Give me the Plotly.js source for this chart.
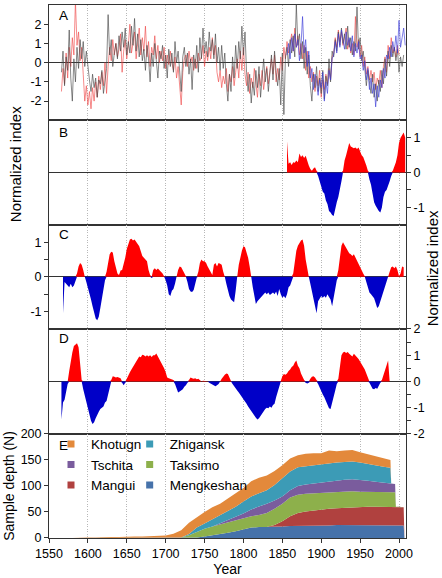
<!DOCTYPE html>
<html><head><meta charset="utf-8">
<script src="https://cdn.plot.ly/plotly-3.0.1.min.js"></script>
<style>html,body{margin:0;padding:0;background:#fff}</style>
</head><body><div id="chart" style="width:442px;height:578px"></div>
<script>
// ---------- Panel A: normalized indices (2-year steps) ----------
const aBlackStart = 1566, aRedStart = 1566, aBlueStart = 1856, aStep = 2;
const aBlack = [-0.5,0.6,-1.2,0.3,-0.4, 1.7,-0.8,-2.0,0.2,-1.0, 0.8,-0.3,1.2,0.2,1.1, -0.2,0.6,-0.3,-0.9,-1.5, -0.6,-1.3,-0.8,-1.8,-0.9, -1.1,-0.4,-1.6,-0.8,-0.3, 2.5,0.4,1.2,-0.2,0.5, 1.0,0.2,1.4,0.6,1.6, 0.8,1.8,0.4,1.1,0.5, 1.9,0.9,2.3,0.6,1.5, 0.3,1.2,0.1,0.7,-0.4, 0.9,0.2,-1.0,0.5,-0.2, 1.0,0.1,-0.8,0.6,0.2, 0.9,-0.3,0.4,-0.8,0.7, -0.2,0.5,-0.5,1.1,0.0, 0.6,-0.3,-1.5,0.3,0.8, -0.2,0.5,-0.6,0.2,-1.4, 0.4,-0.3,0.9,-0.5,1.3, 0.2,1.8,0.5,1.1,0.3, 1.6,0.6,1.2,0.2,1.5, 0.0,0.8,-0.4,0.9,-0.3, 0.5,-1.1,-2.0,-0.6,-1.5, 0.3,-0.8,0.9,-0.3,1.1, 0.2,1.9,0.4,1.6,-0.5, -1.5,-0.6,-2.1,-1.0,-1.7, -0.4,-1.3,-0.2,-1.8,-0.7, 0.2,-1.0,-0.3,-1.5,-0.6, 0.4,-0.9,0.6,-0.5,-1.2, -0.3,-2.2,0.5,-2.7,0.3, 0.8,-0.2,1.2,0.5,1.4, 0.3,3.0,0.9,1.5,0.2, 1.1,-0.3,0.8,-0.6,0.4, -1.2,-2.0,-0.6,-1.3,-0.2, -1.5,-0.8,-1.6,-0.4,-1.9, -0.7,-1.2,0.2,-1.0,0.6, 0.3,1.2,0.6,1.6,0.9, 1.8,1.0,1.5,0.7,1.9, 0.8,1.3,0.4,1.1,0.6, 2.9,0.7,1.3,0.1,0.6, -0.5,-1.2,-0.4,-1.0,-1.6, -0.6,-1.8,-1.1,-2.0,-0.9, -1.5,-0.4,-1.1,0.2,-0.7, 0.6,-0.2,0.9,0.3,0.8, 0.1,0.7,-0.5,0.3,-0.2, 0.4];
const aRed = [-1.5,-0.3,-1.1,0.5,-0.8, 0.8,-0.2,1.3,0.4,3.2, 0.9,1.6,0.1,0.8,-0.6, -2.0,-1.2,-2.2,-1.5,-2.4, -1.3,-2.0,-1.0,-1.8,-0.7, -1.4,-0.5,-1.2,0.0,-1.6, -0.2,0.8,0.1,1.2,0.4, 1.0,0.3,0.7,1.5,-0.5, 0.6,1.2,0.2,0.9,2.0, 0.5,1.0,1.6,0.2,1.2, 1.8,0.4,1.3,0.6,1.9, 0.3,1.1,-0.2,0.8,0.4, 1.4,0.2,0.9,0.0,0.6, 0.1,0.8,-0.3,0.4,-0.1, 0.6,0.0,-0.4,0.3,-0.8, -0.2,-1.3,-2.2,-0.5,0.2, 0.4,-0.2,0.6,0.0,0.3, -0.4,0.2,-0.3,0.5,0.1, 0.3,0.9,-0.2,0.6,0.1, 0.8,0.2,1.3,0.4,0.9, -0.5,-1.0,-0.4,-1.3,-0.7, -1.1,-0.3,-1.5,-0.6,-1.0, -0.2,-1.2,-0.5,0.2,-0.8, 0.6,-0.4,0.8,-0.6,-1.2, -0.5,-1.6,-0.8,-1.3,-0.3, -1.0,-1.8,-0.6,-1.2,-0.4, -1.4,-0.7,-0.2,-1.1,-0.5, 0.2,-0.6,0.4,-1.0,-0.3, -0.9,0.3,-0.4,0.8,0.2, 1.1,0.5,0.9,1.5,0.6, 1.8,0.8,1.4,0.4,1.0, 0.2,0.9,-0.4,0.6,-0.8, -0.2,-1.0,-0.5,-1.5,-0.7, -1.2,-0.4,-1.8,-0.9,-1.4, -0.6,-1.1,-0.3,-0.9,0.3, 0.5,1.3,0.8,1.7,1.1, 1.6,0.9,1.4,1.8,0.7, 1.2,0.5,1.0,0.4,2.4, 0.8,1.2,0.3,0.9,-0.2, 0.3,-0.6,-0.2,-0.9,-0.4, -1.0,-0.5,-1.4,-0.8,-1.1, -0.4,-1.3,-0.2,0.3,-0.5, 0.9,0.2,1.3,0.5,0.8, 0.3,0.9,0.4];
const aBlue = [0.4,1.0,0.2,1.3,0.6, 1.5,0.8,1.2,0.1,0.9, 2.4,0.5,1.2,-0.2,0.6, -0.8,-0.3,-1.4,-0.6,-1.0, -1.7,-0.9,-1.3,-0.5,-2.0, -1.0,-1.6,-0.4,-0.9,0.2, 0.4,1.1,0.5,1.5,0.8, 1.7,1.2,0.7,1.6,0.9, 1.3,0.6,1.4,0.3,1.0, 0.5,1.1,0.2,0.4,-0.4, 0.1,-0.9,-0.3,-1.4,-0.8, -1.6,-1.1,-2.3,-1.2,-1.8, -0.9,-1.3,-0.3,-0.8,0.4, 0.2,0.8,0.3,1.1,0.6, 1.4,0.5,2.2,0.8,1.3, 1.8,0.9];

// ---------- Panels B, C, D: smoothed normalized indices ----------
const bStart = 1856, cStart = 1568, dStart = 1566, smStep = 2;
const bValues = [0.9,0.25,0.3,0.22,0.3, 0.28,0.35,0.3,0.55,0.45, 0.5,0.42,0.48,0.3,0.2, 0.1,0.05,0.12,0.15,0.05, -0.1,-0.25,-0.35,-0.55,-0.6, -0.8,-0.9,-1.1,-1.15,-1.22, -1.25,-1.0,-0.85,-0.7,-0.5, -0.25,0.05,0.35,0.5,0.65, 0.85,0.75,0.72,0.7,0.72, 0.68,0.72,0.6,0.5,0.45, 0.35,0.2,0.05,-0.2,-0.35, -0.6,-0.85,-0.95,-1.05,-1.1, -1.15,-1.0,-0.7,-0.55,-0.5, -0.4,-0.25,-0.1,0.05,0.15, 0.3,0.5,0.85,1.0,1.1, 1.15,1.0];
const cValues = [-1.05,-0.15,-0.2,-0.25,-0.3,-0.2,-0.3,-0.25,-0.1,0.1, 0.3,0.4,0.35,0.2,0.0,-0.15,-0.3,-0.45,-0.65,-0.85, -1.05,-1.2,-1.25,-1.15,-0.9,-0.6,-0.35,-0.1,0.15,0.45, 0.65,0.72,0.7,0.45,0.25,0.1,0.05,0.18,0.2,0.35, 0.55,0.8,0.98,1.08,1.1,1.05,1.08,1.03,0.95,0.88, 0.7,0.6,0.55,0.5,0.45,0.2,0.05,-0.03,0.2,0.25, 0.2,0.24,0.2,0.15,0.1,0.02,-0.1,-0.25,-0.5,-0.55, -0.4,-0.35,-0.2,0.0,0.2,0.3,0.28,0.2,0.12,0.02, -0.15,-0.35,-0.42,-0.44,-0.38,-0.15,-0.02,0.15,0.4,0.5, 0.45,0.45,0.4,0.3,0.2,0.1,0.05,0.35,0.4,0.3, 0.4,0.38,0.35,0.15,0.0,-0.2,-0.4,-0.55,-0.65,-0.7, -0.73,-0.4,0.0,0.35,0.6,0.75,0.88,0.85,0.7,0.55, 0.3,0.0,-0.3,-0.6,-0.78,-0.7,-0.65,-0.6,-0.55,-0.5, -0.45,-0.5,-0.45,-0.52,-0.48,-0.45,-0.5,-0.42,-0.55,-0.35, -0.5,-0.6,-0.55,-0.62,-0.5,-0.3,-0.25,-0.1,0.1,0.4, 0.75,0.9,1.0,1.05,1.08,0.9,0.5,0.2,0.0,-0.2, -0.4,-0.6,-0.85,-1.05,-0.7,-0.6,-0.55,-0.6,-0.55,-0.6, -0.5,-0.58,-0.65,-0.85,-0.6,-0.3,-0.1,0.2,0.6,0.9, 1.0,0.92,0.8,0.72,0.68,0.65,0.6,0.65,0.55,0.5, 0.4,0.25,0.2,0.1,0.02,-0.15,-0.3,-0.45,-0.5,-0.55, -0.62,-0.75,-0.9,-0.85,-0.7,-0.55,-0.4,-0.25,-0.1,0.0, 0.15,0.28,0.3,0.25,0.3,0.2,0.02,0.1,0.3,0.28];
const dValues = [-1.45,-0.8,-0.7,-0.45,-0.1,0.4,0.85,1.1,1.35,1.42, 1.45,1.3,0.6,0.05,-0.3,-0.55,-0.8,-1.0,-1.25,-1.5, -1.62,-1.55,-1.4,-1.25,-1.15,-1.05,-1.0,-0.95,-0.8,-0.75, -0.5,-0.2,0.05,0.2,0.18,0.15,0.17,0.15,0.12,-0.05, -0.15,-0.05,0.1,0.25,0.35,0.45,0.55,0.65,0.78,0.88, 0.95,0.92,1.02,1.0,0.95,1.0,0.95,1.0,0.93,1.0, 1.0,1.06,0.95,0.85,0.72,0.6,0.5,0.35,0.15,0.12, 0.1,0.08,0.05,-0.1,-0.3,-0.42,-0.38,-0.35,-0.3,-0.2, -0.15,-0.05,0.05,0.15,0.12,0.1,0.12,0.08,0.1,0.05, 0.0,0.03,0.02,-0.02,0.0,-0.05,-0.08,-0.12,-0.15,-0.18, -0.15,-0.1,0.0,0.1,0.2,0.25,0.3,0.28,0.15,0.02, -0.1,-0.2,-0.28,-0.35,-0.42,-0.5,-0.58,-0.7,-0.78,-0.85, -0.95,-1.05,-1.15,-1.2,-1.3,-1.38,-1.45,-1.4,-1.3,-1.22, -1.1,-1.05,-1.0,-1.02,-0.95,-1.0,-0.9,-0.85,-0.6,-0.4, -0.2,0.02,0.2,0.28,0.25,0.3,0.4,0.45,0.55,0.6, 0.72,0.8,0.6,0.5,0.3,0.15,0.05,-0.05,-0.08,-0.05, 0.1,0.18,0.2,0.15,0.05,-0.1,-0.25,-0.35,-0.5,-0.6, -0.75,-0.9,-1.02,-1.05,-0.85,-0.6,-0.35,-0.1,0.1,0.6, 1.0,1.1,1.13,1.08,1.12,1.05,1.0,0.95,1.05,1.0, 0.92,0.85,0.75,0.7,0.6,0.45,0.3,0.1,-0.05,-0.2, -0.28,-0.3,-0.25,-0.28,-0.15,-0.05,0.05,0.25,0.45,0.65, 0.8,0.0];

// ---------- Panel E: sample depth per site ----------
const eYears = [1580,1590,1600,1610,1620,1630,1640,1650,1660,1670,1680,1690,1700,1710,1720,1730,1740,1750,1760,1770,1780,1790,1800,1810,1820,1830,1840,1850,1860,1870,1880,1890,1900,1910,1920,1930,1940,1950,1960,1970,1980,1989,1990,1995,1996,2000,2006,2007];
const mengkeshan = [0,0,0,0,0,0,0,0,0,0,0,0,0,0, 0,0.5,1,3,5,8,10,13,16,20,21,21,22,22,23,23,23,24,24,24,25,25,25,25,25,25,25,25,25,25,25,25,24,0];
const mangui = [0,0,0,0,0,0,0,0,0,0,0,0,0,0,0,0,0,0,0,0,0,0,0,0,0,0, 3,10,19,25,28,29,31,32,32,33,34,35,35,35,35,35,35,35,35,35,35,0];
const taksimo = [0,0,0,0,0,0,0,0,0,0,0,0,0,0, 1,5,11,15,17,18,20,21,22,22,23,27,31,34,36,35,34,33,31,32,32,32,31,29,29,28,28,28,28,28,0,0,0,0];
const tschita = [0,0,0,0,0,0,0,0,0,0,0,0,0,0,0,0,0,0,0, 2,4,6,9,13,16,18,16,14,14,17,18,19,20,20,21,22,23,23,21,20,18,17,17,16,0,0,0,0];
const zhigansk = [0,0,0,0,0,0,0,0,0,0,0,0,0,0,0, 2,8,10,14,16,18,20,23,25,26,26,30,35,36,36,35,35,36,36,35,34,34,33,32,32,31,30,0,0,0,0,0,0];
const khotugn = [0,1,1,1,2,2,2,3,3,3,4,4,5,8,14,22,20,22,23,22,24,26,26,29,30,28,27,25,25,23,24,23,21,24,22,22,22,20,19,17,17,15,0,0,0,0,0,0];
const siteNames = ['Mengkeshan','Mangui','Taksimo','Tschita','Zhigansk','Khotugn'];
const siteColors = ['#4672aa','#b0413f','#8db04b','#7a5c9d','#3c9bb6','#e3893b'];

// ---------- ticks ----------
const xTicks = [1550,1600,1650,1700,1750,1800,1850,1900,1950,2000];
const aTicks = [-2,-1,0,1,2];
const bcTicks = [-1,0,1];
const dTicks = [-2,-1,0,1,2];
const eTicks = [0,50,100,150,200];
const lbl = v => String(v);  // hyphen minus like reference

const yrs = (start, step, n) => Array.from({length:n}, (_, i) => start + i*step);
const traces = [];

// Panel A
traces.push({x: yrs(aRedStart, aStep, aRed.length), y: aRed, mode:'lines', line:{color:'#f04848', width:0.75}, opacity:0.85, xaxis:'x', yaxis:'y', showlegend:false, hoverinfo:'skip'});
traces.push({x: yrs(aBlackStart, aStep, aBlack.length), y: aBlack, mode:'lines', line:{color:'#454545', width:0.75}, opacity:0.85, xaxis:'x', yaxis:'y', showlegend:false, hoverinfo:'skip'});
traces.push({x: yrs(aBlueStart, aStep, aBlue.length), y: aBlue, mode:'lines', line:{color:'#3838d8', width:0.75}, opacity:0.85, xaxis:'x', yaxis:'y', showlegend:false, hoverinfo:'skip'});

// Panels B-D: split into positive (red) and negative (blue) areas
function addSigned(values, start, xa, ya) {
  const x = yrs(start, smStep, values.length);
  traces.push({x, y: values.map(v => Math.max(v, 0)), mode:'lines', fill:'tozeroy', fillcolor:'#ff0000', line:{width:0, color:'#ff0000'}, xaxis:xa, yaxis:ya, showlegend:false, hoverinfo:'skip'});
  traces.push({x, y: values.map(v => Math.min(v, 0)), mode:'lines', fill:'tozeroy', fillcolor:'#0000c8', line:{width:0, color:'#0000c8'}, xaxis:xa, yaxis:ya, showlegend:false, hoverinfo:'skip'});
}
addSigned(bValues, bStart, 'x2', 'y2');
addSigned(cValues, cStart, 'x3', 'y3');
addSigned(dValues, dStart, 'x4', 'y4');

// Panel E stacked areas
const siteData = [mengkeshan, mangui, taksimo, tschita, zhigansk, khotugn];
siteData.forEach((vals, i) => {
  traces.push({x: eYears, y: vals, mode:'lines', stackgroup:'depth', fillcolor: siteColors[i], line:{width:0, color: siteColors[i]}, xaxis:'x5', yaxis:'y5', showlegend:false, hoverinfo:'skip'});
});
// legend entries (two columns)
const legendOrder = [[5,'legend'],[3,'legend'],[1,'legend'],[4,'legend2'],[2,'legend2'],[0,'legend2']];
legendOrder.forEach(([i, lg]) => {
  traces.push({x:[null], y:[null], mode:'markers', marker:{symbol:'square', size:7, color:siteColors[i]}, name: siteNames[i], legend: lg, xaxis:'x5', yaxis:'y5', showlegend:true, hoverinfo:'skip'});
});

const font = 'Liberation Sans, Arial, sans-serif';
const xBase = {range:[1550,2009], tickmode:'array', tickvals:xTicks, showgrid:true, gridcolor:'#b8b8b8', griddash:'1px,1.5px', gridwidth:1, showline:true, linecolor:'#333', linewidth:1, mirror:true, zeroline:false, ticks:'', showticklabels:false, fixedrange:true};
const yBase = {showline:true, linecolor:'#333', linewidth:1, mirror:true, showgrid:false, zeroline:true, zerolinecolor:'#333', zerolinewidth:1.2, ticks:'outside', ticklen:4, tickcolor:'#333', tickfont:{size:12.5}, fixedrange:true, tickmode:'array'};

const dom = {A:[0.7836,1], B:[0.5876,0.7836], C:[0.3923,0.5876], D:[0.1952,0.3923], E:[0,0.1952]};
const legBase = {xanchor:'left', yanchor:'top', bgcolor:'rgba(0,0,0,0)', borderwidth:0, font:{size:13.5}, itemwidth:30, tracegroupgap:0, traceorder:'normal'};

const layout = {
  width:442, height:578,
  margin:{l:49, r:36, t:5, b:40, pad:0},
  paper_bgcolor:'#fff', plot_bgcolor:'#fff',
  font:{family:font, size:12.5, color:'#000'},
  xaxis: Object.assign({}, xBase, {anchor:'y'}),
  xaxis2: Object.assign({}, xBase, {anchor:'y2', matches:'x'}),
  xaxis3: Object.assign({}, xBase, {anchor:'y3', matches:'x'}),
  xaxis4: Object.assign({}, xBase, {anchor:'y4', matches:'x'}),
  xaxis5: Object.assign({}, xBase, {anchor:'y5', matches:'x', ticks:'outside', ticklen:4, tickcolor:'#333', showticklabels:true, tickfont:{size:12.5}, title:{text:'Year', font:{size:14}, standoff:4}}),
  yaxis: Object.assign({}, yBase, {domain:dom.A, anchor:'x', range:[-3,3], side:'left', tickvals:aTicks, ticktext:aTicks.map(lbl)}),
  yaxis2: Object.assign({}, yBase, {domain:dom.B, anchor:'x2', range:[-1.5,1.5], side:'right', tickvals:bcTicks, ticktext:bcTicks.map(lbl), minor:{tickmode:'array', tickvals:[-0.5,0.5], ticks:'outside', ticklen:4, tickcolor:'#333', showgrid:false}}),
  yaxis3: Object.assign({}, yBase, {domain:dom.C, anchor:'x3', range:[-1.5,1.5], side:'left', tickvals:bcTicks, ticktext:bcTicks.map(lbl), minor:{tickmode:'array', tickvals:[-0.5,0.5], ticks:'outside', ticklen:4, tickcolor:'#333', showgrid:false}}),
  yaxis4: Object.assign({}, yBase, {domain:dom.D, anchor:'x4', range:[-2,2], side:'right', tickvals:dTicks, ticktext:dTicks.map(lbl), minor:{tickmode:'array', tickvals:[-1.5,-0.5,0.5,1.5], ticks:'outside', ticklen:4, tickcolor:'#333', showgrid:false}}),
  yaxis5: Object.assign({}, yBase, {domain:dom.E, anchor:'x5', range:[0,200], side:'left', zeroline:false, tickvals:eTicks, ticktext:eTicks.map(lbl), title:{text:'Sample depth (N)', font:{size:14}, standoff:2}}),
  legend: Object.assign({}, legBase, {x:0.0056, y:0.205}),
  legend2: Object.assign({}, legBase, {x:0.226, y:0.205}),
  annotations: [
    {text:'Normalized index', xref:'paper', yref:'paper', x:-0.095, y:0.7015, textangle:-90, showarrow:false, font:{size:15}, xanchor:'center', yanchor:'middle'},
    {text:'Normalized index', xref:'paper', yref:'paper', x:1.073, y:0.506, textangle:-90, showarrow:false, font:{size:15}, xanchor:'center', yanchor:'middle'},
    {text:'A', xref:'paper', yref:'paper', x:0.022, y:0.9812, xanchor:'left', yanchor:'middle', showarrow:false, font:{size:13.5}},
    {text:'B', xref:'paper', yref:'paper', x:0.022, y:0.7614, xanchor:'left', yanchor:'middle', showarrow:false, font:{size:13.5}},
    {text:'C', xref:'paper', yref:'paper', x:0.022, y:0.5698, xanchor:'left', yanchor:'middle', showarrow:false, font:{size:13.5}},
    {text:'D', xref:'paper', yref:'paper', x:0.022, y:0.3749, xanchor:'left', yanchor:'middle', showarrow:false, font:{size:13.5}},
    {text:'E', xref:'paper', yref:'paper', x:0.022, y:0.174, xanchor:'left', yanchor:'middle', showarrow:false, font:{size:13.5}}
  ]
};

Plotly.newPlot('chart', traces, layout, {staticPlot:true, displayModeBar:false});
</script></body></html>
